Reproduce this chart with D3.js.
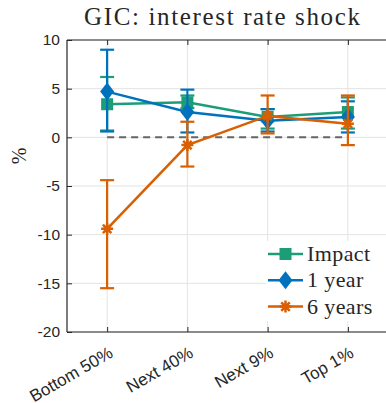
<!DOCTYPE html>
<html>
<head>
<meta charset="UTF-8">
<title>GIC: interest rate shock</title>
<script src="https://d3js.org/d3.v7.min.js"></script>
<style>
    body { margin: 0; background: #fff; }
    svg text { fill: #262626; }
</style>
</head>
<body>
<div id="chart"></div>
<script>
// data
var groups = ["Bottom 50%", "Next 40%", "Next 9%", "Top 1%"];
var seriesNames = ["Impact", "1 year", "6 years"];

var impact      = [3.4, 3.6, 2.1, 2.6];
var impactLow   = [0.7, 3.0, 0.9, 0.9];
var impactHigh  = [6.2, 4.3, 2.9, 4.1];

var year1       = [4.7, 2.6, 1.7, 2.1];
var year1Low    = [0.6, 0.5, 0.6, 0.5];
var year1High   = [9.0, 4.9, 2.9, 3.7];

var year6       = [-9.4, -0.8, 2.2, 1.4];
var year6Low    = [-15.5, -3.0, 0.4, -0.8];
var year6High   = [-4.4, 1.6, 4.3, 4.3];

var yTicks = [10, 5, 0, -5, -10, -15, -20];

var colors = ["#1b9e77", "#0072bd", "#d95f02"];
var markers = ["square", "diamond", "asterisk"];

var width = 386, height = 403;
var left = 67, plotTop = 40, plotBottom = 332;

var svg = d3.select("#chart").append("svg")
        .attr("width", width)
        .attr("height", height);

var x = d3.scaleLinear().domain([0.5, 4.5]).range([left, 388]);
var y = d3.scaleLinear().domain([-20, 10]).range([plotBottom, plotTop]);

// grid
svg.append("g").selectAll("line").data(yTicks).enter().append("line")
        .attr("x1", left).attr("x2", width)
        .attr("y1", function (d) { return y(d); })
        .attr("y2", function (d) { return y(d); })
        .attr("stroke", "#e3e3e3").attr("stroke-width", 1);
svg.append("g").selectAll("line").data(groups).enter().append("line")
        .attr("x1", function (d, i) { return x(i + 1); })
        .attr("x2", function (d, i) { return x(i + 1); })
        .attr("y1", plotTop).attr("y2", plotBottom)
        .attr("stroke", "#e3e3e3").attr("stroke-width", 1);

// axes
var yAxis = d3.axisLeft(y).tickValues(yTicks).tickSize(-5).tickPadding(7)
        .tickFormat(function (d) { return String(d); });   // plain hyphen minus
var gy = svg.append("g").attr("transform", "translate(" + left + ",0)").call(yAxis);
var xAxis = d3.axisBottom(x).tickValues([1, 2, 3, 4]).tickSize(-5).tickFormat(function () { return ""; });
var gx = svg.append("g").attr("transform", "translate(0," + plotBottom + ")").call(xAxis);
var xTop = d3.axisTop(x).tickValues([1, 2, 3, 4]).tickSize(-5).tickFormat(function () { return ""; });
var gt = svg.append("g").attr("transform", "translate(0," + plotTop + ")").call(xTop);

[gy, gx, gt].forEach(function (g) {
    g.select(".domain").attr("stroke", "#262626").attr("stroke-width", 1.2);
    g.selectAll(".tick line").attr("stroke", "#262626");
});
gy.select(".domain").attr("d", "M0," + plotTop + "V" + plotBottom);
gx.select(".domain").attr("d", "M" + left + ",0H" + width);
gt.select(".domain").attr("d", "M" + left + ",0H" + width);
gy.selectAll(".tick text")
        .style("font-family", "'Liberation Sans', Arial, sans-serif")
        .style("font-size", "15.5px")
        .attr("fill", "#262626");

// rotated group labels
svg.append("g").selectAll("text").data(groups).enter().append("text")
        .attr("transform", function (d, i) {
            return "translate(" + (x(i + 1) + 1) + ",346) rotate(-30)";
        })
        .attr("text-anchor", "end")
        .attr("dy", "0.7em")
        .style("font-family", "'Liberation Sans', Arial, sans-serif")
        .style("font-size", "17px")
        .text(function (d) { return d; });

// title and y label
svg.append("text")
        .attr("x", 222).attr("y", 25)
        .attr("text-anchor", "middle")
        .attr("textLength", 276)
        .attr("lengthAdjust", "spacing")
        .style("font-family", "'Liberation Serif', 'DejaVu Serif', serif")
        .style("font-size", "25px")
        .attr("fill", "#000")
        .text("GIC: interest rate shock");
svg.append("text")
        .attr("transform", "translate(26,156) rotate(-90)")
        .attr("text-anchor", "middle")
        .style("font-family", "'Liberation Serif', serif")
        .style("font-size", "20px")
        .attr("fill", "#555")
        .text("%");

// zero line
svg.append("line")
        .attr("x1", x(1)).attr("x2", x(4))
        .attr("y1", y(0)).attr("y2", y(0))
        .attr("stroke", "#666").attr("stroke-width", 2)
        .attr("stroke-dasharray", "7,5");

function drawMarker(g, type, color, cx, cy) {
    if (type === "square") {
        g.append("rect").attr("x", cx - 6).attr("y", cy - 6)
                .attr("width", 12).attr("height", 12).attr("fill", color);
    } else if (type === "diamond") {
        g.append("path")
                .attr("d", "M" + cx + "," + (cy - 9) + "L" + (cx + 7) + "," + cy +
                        "L" + cx + "," + (cy + 9) + "L" + (cx - 7) + "," + cy + "Z")
                .attr("fill", color);
    } else {
        var r = 6, p = "";
        for (var k = 0; k < 4; k++) {
            var a = k * Math.PI / 4;
            p += "M" + (cx - r * Math.cos(a)) + "," + (cy - r * Math.sin(a)) +
                    "L" + (cx + r * Math.cos(a)) + "," + (cy + r * Math.sin(a));
        }
        g.append("path").attr("d", p).attr("stroke", color)
                .attr("stroke-width", 2.5).attr("fill", "none");
    }
}

var allSeries = [
    {vals: impact, lo: impactLow, hi: impactHigh},
    {vals: year1, lo: year1Low, hi: year1High},
    {vals: year6, lo: year6Low, hi: year6High}
];

var line = d3.line()
        .x(function (d, i) { return x(i + 1); })
        .y(function (d) { return y(d); });

allSeries.forEach(function (s, si) {
    var g = svg.append("g");
    var c = colors[si];
    // error bars
    s.vals.forEach(function (v, i) {
        var cx = x(i + 1);
        g.append("line").attr("x1", cx).attr("x2", cx)
                .attr("y1", y(s.lo[i])).attr("y2", y(s.hi[i]))
                .attr("stroke", c).attr("stroke-width", 2.2);
        [s.lo[i], s.hi[i]].forEach(function (e) {
            g.append("line").attr("x1", cx - 7).attr("x2", cx + 7)
                    .attr("y1", y(e)).attr("y2", y(e))
                    .attr("stroke", c).attr("stroke-width", 2.2);
        });
    });
    g.append("path").datum(s.vals).attr("d", line)
            .attr("fill", "none").attr("stroke", c).attr("stroke-width", 2.5);
    s.vals.forEach(function (v, i) {
        drawMarker(g, markers[si], c, x(i + 1), y(v));
    });
});

// legend
var legend = svg.append("g");
legend.append("rect").attr("x", 266).attr("y", 241)
        .attr("width", 120).attr("height", 80).attr("fill", "#fff");
seriesNames.forEach(function (name, i) {
    var ly = 254 + i * 26.3;
    legend.append("line").attr("x1", 268).attr("x2", 303)
            .attr("y1", ly).attr("y2", ly)
            .attr("stroke", colors[i]).attr("stroke-width", 2.5);
    drawMarker(legend, markers[i], colors[i], 285.5, ly);
    legend.append("text").attr("x", 307).attr("y", ly + 7)
            .style("font-family", "'Liberation Serif', serif")
            .style("font-size", "22px")
            .style("letter-spacing", "0.4px")
            .attr("fill", "#000")
            .text(name);
});
</script>
</body>
</html>
